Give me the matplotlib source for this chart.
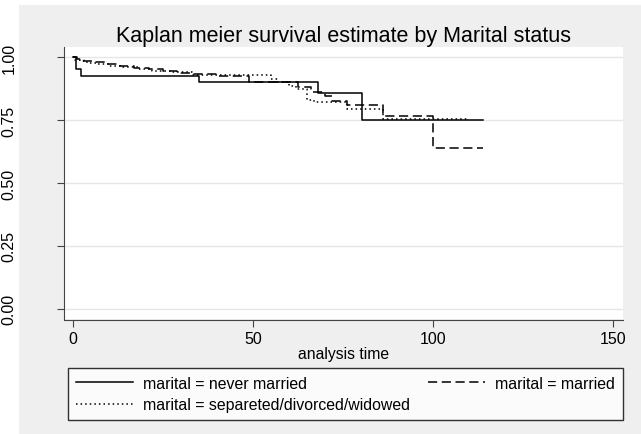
import matplotlib.pyplot as plt
from matplotlib.patches import Rectangle

plt.rcParams['font.family'] = ['Liberation Sans', 'DejaVu Sans']

# Kaplan-Meier step estimates (time, survival)
never_t = [0, 0.7, 2.2, 35, 68, 80.2, 114]
never_s = [1.0, 0.952, 0.923, 0.90, 0.857, 0.75, 0.75]

married_t = [0, 1, 3, 6, 9, 13, 17, 21, 25, 29, 33, 40, 49, 62.5, 66, 70, 72, 76, 86, 100, 114]
married_s = [1.0, 0.993, 0.986, 0.979, 0.972, 0.965, 0.958, 0.951, 0.944, 0.937, 0.932,
             0.926, 0.903, 0.88, 0.86, 0.846, 0.827, 0.81, 0.767, 0.64, 0.64]

sep_t = [0, 0.5, 2, 4, 7, 10, 14, 18, 22, 27, 33, 55, 57, 60, 62, 65, 67, 76, 86, 110]
sep_s = [1.0, 0.99, 0.985, 0.978, 0.972, 0.966, 0.96, 0.953, 0.946, 0.94, 0.928, 0.912,
         0.90, 0.887, 0.873, 0.83, 0.82, 0.793, 0.754, 0.754]

x_ticks = [0, 50, 100, 150]
y_ticks = [0.0, 0.25, 0.5, 0.75, 1.0]
y_labels = ['0.00', '0.25', '0.50', '0.75', '1.00']

fig = plt.figure(figsize=(6.41, 4.35), dpi=100)
fig.patch.set_facecolor('white')

# grey graph region behind everything
bg = Rectangle((19 / 641, 0), 1, 429 / 435, transform=fig.transFigure,
               facecolor='#efefef', edgecolor='none', zorder=-10)
fig.patches.append(bg)

ax = fig.add_axes([64 / 641, 1 - 320 / 435, (623 - 64) / 641, (320 - 48) / 435])
ax.set_zorder(1)
ax.set_facecolor('white')

ax.step(never_t, never_s, where='post', color='black', lw=1.1,
        label='marital = never married')
ax.step(sep_t, sep_s, where='post', color='black', lw=1.1, linestyle=(0, (1, 2)),
        label='marital = separeted/divorced/widowed')
ax.step(married_t, married_s, where='post', color='black', lw=1.1, linestyle=(0, (6, 3)),
        label='marital = married')

ax.set_xlim(-2.5, 152.8)
ax.set_ylim(-0.04, 1.04)
ax.set_xticks(x_ticks)
ax.set_yticks(y_ticks)
ax.set_yticklabels(y_labels, rotation=90, va='center')
ax.yaxis.grid(True, color='#e6e6e6', lw=1)
ax.set_axisbelow(True)

for s in ['top', 'right']:
    ax.spines[s].set_visible(False)
ax.spines['left'].set_color('#444444')
ax.spines['bottom'].set_color('#444444')
ax.spines['bottom'].set_position(('outward', 1))
ax.tick_params(axis='y', length=5, color='#444444', pad=29, labelsize=11.5)
ax.tick_params(axis='x', length=5, color='#444444', pad=3, labelsize=11.5)

ax.set_xlabel('analysis time', fontsize=11.3, labelpad=0)
ax.set_title('Kaplan meier survival estimate by Marital status', fontsize=15.5, pad=4)

leg = fig.legend(loc='upper left', bbox_to_anchor=(68 / 641, 1 - 369 / 435), ncol=2,
                 fontsize=11.4, frameon=True, fancybox=False, edgecolor='black',
                 handlelength=3.6, handletextpad=0.65, columnspacing=1.1,
                 borderpad=0.5, labelspacing=0.4, borderaxespad=0)
leg.get_frame().set_linewidth(1)
leg.get_frame().set_facecolor('white')
leg.set_zorder(2)

fig.savefig('out.png', dpi=100)
